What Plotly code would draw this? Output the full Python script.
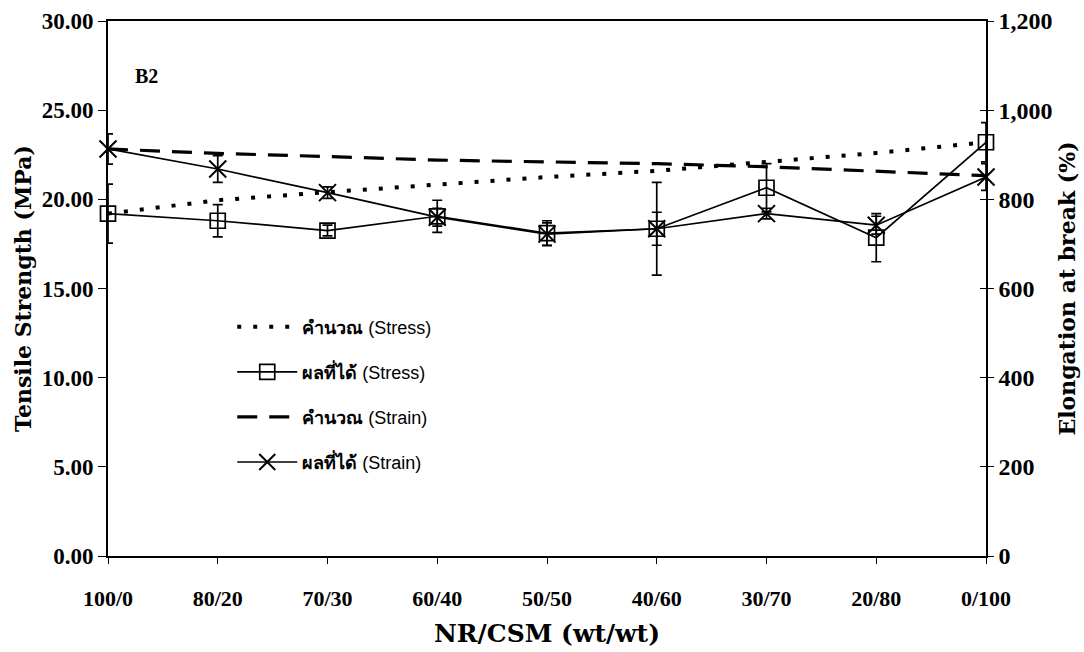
import plotly.graph_objects as go

# NR/CSM blend ratios (wt/wt)
categories = ["100/0", "80/20", "70/30", "60/40", "50/50", "40/60", "30/70", "20/80", "0/100"]

# Tensile strength (MPa)
stress_calc = [19.2, 19.95, 20.4, 20.85, 21.25, 21.6, 22.1, 22.6, 23.2]
stress_meas = [19.2, 18.8, 18.25, 19.05, 18.1, 18.35, 20.65, 17.85, 23.2]
stress_err = [1.65, 0.9, 0.3, 0.9, 0.7, 2.6, 1.35, 1.35, 1.1]

# Elongation at break (%)
strain_calc = [913, 903, 896, 888, 884, 880, 873, 863, 853]
strain_meas = [913, 868, 815, 760, 722, 734, 768, 742, 850]
strain_err = [34, 30, 13, 20, 25, 37, 12, 20, 30]

left_ticks = [0, 5, 10, 15, 20, 25, 30]
left_ticktext = ["0.00", "5.00", "10.00", "15.00", "20.00", "25.00", "30.00"]
right_ticks = [0, 200, 400, 600, 800, 1000, 1200]
right_ticktext = ["0", "200", "400", "600", "800", "1,000", "1,200"]

SERIF = "Liberation Serif"
TITLE_SERIF = "DejaVu Serif"
SANS = "Liberation Sans, Arial, sans-serif"
BLACK = "#000000"

fig = go.Figure()

fig.add_trace(go.Scatter(
    x=categories, y=stress_calc, name="<b>คำนวณ</b> (Stress)",
    mode="lines", line=dict(color=BLACK, width=4, dash="4px,12px"),
    legendgroup="a", cliponaxis=False,
))
fig.add_trace(go.Scatter(
    x=categories, y=stress_meas, name="<b>ผลที่ได้</b> (Stress)",
    mode="lines+markers",
    line=dict(color=BLACK, width=1.7),
    marker=dict(symbol="square-open", size=15, color=BLACK, line=dict(width=1.7)),
    error_y=dict(type="data", array=stress_err, color=BLACK, thickness=1.7, width=5),
    legendgroup="b", cliponaxis=False,
))
fig.add_trace(go.Scatter(
    x=categories, y=strain_calc, name="<b>คำนวณ</b> (Strain)", yaxis="y2",
    mode="lines", line=dict(color=BLACK, width=3.2, dash="20px,12px"),
    legendgroup="c", cliponaxis=False,
))
fig.add_trace(go.Scatter(
    x=categories, y=strain_meas, name="<b>ผลที่ได้</b> (Strain)", yaxis="y2",
    mode="lines+markers",
    line=dict(color=BLACK, width=1.7),
    marker=dict(symbol="x-thin-open", size=17, color=BLACK, line=dict(width=2, color=BLACK)),
    error_y=dict(type="data", array=strain_err, color=BLACK, thickness=1.7, width=5),
    legendgroup="d", cliponaxis=False,
))
# empty trace so the inner-tick axis on the right is laid out
fig.add_trace(go.Scatter(
    x=[categories[0]], y=[None], yaxis="y3", mode="lines",
    showlegend=False, hoverinfo="skip",
))

axis_font = dict(family=SERIF, size=22, color=BLACK)
title_font = dict(family=TITLE_SERIF, size=22, color=BLACK)

fig.update_layout(
    width=1084, height=652,
    margin=dict(l=108, r=98, t=21, b=96, autoexpand=False),
    paper_bgcolor="white", plot_bgcolor="white",
    showlegend=True,
    legend=dict(
        x=0.1415, y=0.4626, xanchor="left", yanchor="top",
        font=dict(family=SANS, size=18, color=BLACK),
        bgcolor="rgba(0,0,0,0)", tracegroupgap=18.7, itemwidth=60,
    ),
    xaxis=dict(
        type="category", range=[0, 8], automargin=False,
        tickvals=categories, ticktext=[f"<b>{c}</b>" for c in categories],
        showline=True, linecolor=BLACK, linewidth=1.6, mirror=True,
        ticks="outside", ticklen=6, tickcolor=BLACK, tickwidth=1.3,
        tickfont=axis_font, ticklabelstandoff=16,
        showgrid=False, zeroline=False,
        title=dict(text="<b>NR/CSM (wt/wt)</b>", font=dict(family=TITLE_SERIF, size=25, color=BLACK), standoff=14),
    ),
    yaxis=dict(
        range=[0, 30], automargin=False,
        tickvals=left_ticks, ticktext=[f"<b>{t}</b>" for t in left_ticktext],
        showline=True, linecolor=BLACK, linewidth=1.6,
        ticks="outside", ticklen=8, tickcolor=BLACK, tickwidth=1.3,
        tickfont=dict(family=SERIF, size=23, color=BLACK), showgrid=False, zeroline=False,
        title=dict(text="<b>Tensile Strength (MPa)</b>", font=title_font, standoff=4),
    ),
    yaxis2=dict(
        range=[0, 1200], automargin=False,
        tickvals=right_ticks, ticktext=[f"<b>{t}</b>" for t in right_ticktext],
        overlaying="y", side="right",
        showline=True, linecolor=BLACK, linewidth=1.6,
        ticks="outside", ticklen=6, tickcolor=BLACK, tickwidth=1.3,
        tickfont=dict(family=SERIF, size=24, color=BLACK), showgrid=False, zeroline=False,
        title=dict(text="<b>Elongation at break (%)</b>", font=title_font, standoff=8),
    ),
    # inner half of the crossing ticks on the right-hand axis
    yaxis3=dict(
        range=[0, 1200], automargin=False,
        tickvals=right_ticks, overlaying="y", side="right",
        anchor="x", showline=False, showticklabels=False,
        ticks="inside", ticklen=6, tickcolor=BLACK, tickwidth=1.3,
        showgrid=False, zeroline=False,
    ),
    annotations=[dict(
        text="<b>B2</b>", x=0.028, y=0.898, xref="paper", yref="paper",
        xanchor="left", yanchor="middle", showarrow=False,
        font=dict(family=SERIF, size=20, color=BLACK),
    )],
)

fig.write_html("out.html")
